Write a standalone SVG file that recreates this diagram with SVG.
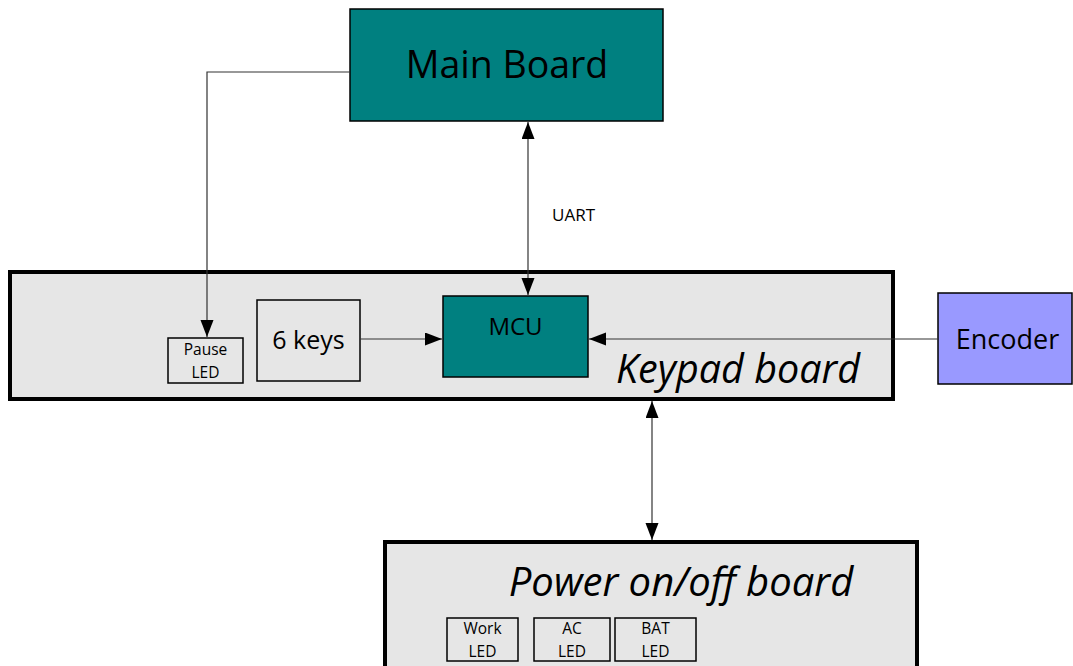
<svg xmlns="http://www.w3.org/2000/svg" width="1073" height="666" viewBox="0 0 1073 666">
<style>
.t{font-family:"Open Sans","Liberation Sans",sans-serif;fill:#000;text-anchor:middle}
.it{font-style:italic}
.board{fill:#e6e6e6;stroke:#000;stroke-width:4}
.teal{fill:#008080;stroke:#000;stroke-width:1.5}
.box{fill:none;stroke:#000;stroke-width:1.5}
.con{fill:none;stroke:#333;stroke-width:1.2}
</style>
<defs>
<marker id="ah" markerUnits="userSpaceOnUse" markerWidth="18" markerHeight="14" refX="17" refY="6.5" orient="auto-start-reverse">
<path d="M0,0 L17,6.5 L0,13 Z" fill="#000"/>
</marker>
</defs>
<rect width="1073" height="666" fill="#fff"/>
<g id="keypad-board">
<rect class="board" x="10" y="272" width="883" height="127"/>
<text class="t it" x="738" y="383" font-size="39.5">Keypad board</text>
</g>
<g id="power-board">
<rect class="board" x="385" y="542" width="532" height="130"/>
<text class="t it" x="681" y="596" font-size="40">Power on/off board</text>
</g>
<g id="main-board">
<rect class="teal" x="350" y="9" width="313" height="112"/>
<text class="t" x="507" y="78" font-size="37.5">Main Board</text>
</g>
<g id="pause-led">
<rect class="box" x="168" y="338" width="75" height="45"/>
<text class="t" x="205.5" y="355" font-size="15.5">Pause</text>
<text class="t" x="205.5" y="378" font-size="15.5">LED</text>
</g>
<g id="six-keys">
<rect class="box" x="257" y="300" width="103" height="81"/>
<text class="t" x="308.5" y="349" font-size="25">6 keys</text>
</g>
<g id="mcu">
<rect class="teal" x="443" y="296" width="145" height="81"/>
<text class="t" x="515.5" y="335" font-size="24">MCU</text>
</g>
<g id="encoder">
<rect x="938" y="293" width="134" height="91" fill="#9999ff" stroke="#000" stroke-width="1.5"/>
<text class="t" x="1007.5" y="349" font-size="27">Encoder</text>
</g>
<g id="work-led">
<rect class="box" x="447" y="618" width="71" height="43"/>
<text class="t" x="482.5" y="634" font-size="15.5">Work</text>
<text class="t" x="482.5" y="657" font-size="15.5">LED</text>
</g>
<g id="ac-led">
<rect class="box" x="534" y="618" width="76" height="43"/>
<text class="t" x="572" y="634" font-size="15.5">AC</text>
<text class="t" x="572" y="657" font-size="15.5">LED</text>
</g>
<g id="bat-led">
<rect class="box" x="615" y="618" width="81" height="43"/>
<text class="t" x="655.5" y="634" font-size="15.5">BAT</text>
<text class="t" x="655.5" y="657" font-size="15.5">LED</text>
</g>
<g id="connectors">
<polyline class="con" points="350,72 207,72 207,337" marker-end="url(#ah)"/>
<line class="con" x1="528" y1="122" x2="528" y2="295" marker-start="url(#ah)" marker-end="url(#ah)"/>
<text x="552" y="221" font-size="17" font-family="'Open Sans','Liberation Sans',sans-serif">UART</text>
<line class="con" x1="360" y1="339" x2="442" y2="339" marker-end="url(#ah)"/>
<line class="con" x1="938" y1="339" x2="589" y2="339" marker-end="url(#ah)"/>
<line class="con" x1="652" y1="401" x2="652" y2="540" marker-start="url(#ah)" marker-end="url(#ah)"/>
</g>
</svg>
